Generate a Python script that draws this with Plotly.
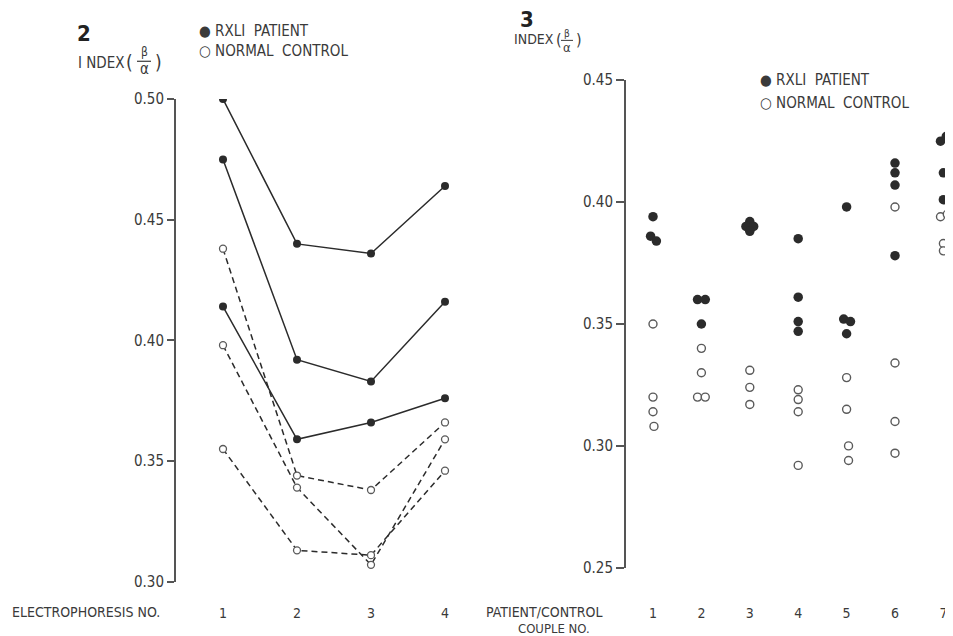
import plotly.graph_objects as go

W, H = 953, 636

# ---------------- Data ----------------
# Figure 2: index (beta/alpha) per electrophoresis run
electrophoresis_no = [1, 2, 3, 4]
patient_runs = [
    [0.500, 0.440, 0.436, 0.464],
    [0.475, 0.392, 0.383, 0.416],
    [0.414, 0.359, 0.366, 0.376],
]
control_runs = [
    [0.438, 0.344, 0.338, 0.366],
    [0.398, 0.339, 0.307, 0.359],
    [0.355, 0.313, 0.311, 0.346],
]
left_yticks = [0.30, 0.35, 0.40, 0.45, 0.50]

# Figure 3: index per patient/control couple
couple_no = [1, 2, 3, 4, 5, 6, 7]
patient_couple = [1, 1, 1, 2, 2, 2, 3, 3, 3, 3, 4, 4, 4, 4, 5, 5, 5, 5, 6, 6, 6, 6, 7, 7, 7, 7]
patient_index = [0.394, 0.386, 0.384,
                 0.360, 0.360, 0.350,
                 0.392, 0.390, 0.390, 0.388,
                 0.385, 0.361, 0.351, 0.347,
                 0.398, 0.352, 0.351, 0.346,
                 0.416, 0.412, 0.407, 0.378,
                 0.425, 0.427, 0.412, 0.401]
patient_offset = [0, -0.05, 0.07,
                  -0.08, 0.08, 0,
                  0, -0.08, 0.08, 0,
                  0, 0, 0, 0,
                  0, -0.06, 0.08, 0,
                  0, 0, 0, 0,
                  -0.06, 0.06, 0, 0]
control_couple = [1, 1, 1, 1, 2, 2, 2, 2, 3, 3, 3, 4, 4, 4, 4, 5, 5, 5, 5, 6, 6, 6, 6, 7, 7, 7, 7]
control_index = [0.350, 0.320, 0.314, 0.308,
                 0.340, 0.330, 0.320, 0.320,
                 0.331, 0.324, 0.317,
                 0.323, 0.319, 0.314, 0.292,
                 0.328, 0.315, 0.300, 0.294,
                 0.398, 0.334, 0.310, 0.297,
                 0.394, 0.395, 0.383, 0.380]
control_offset = [0, 0, 0, 0.02,
                  0, 0, -0.08, 0.08,
                  0, 0, 0,
                  0, 0, 0, 0,
                  0, 0, 0.04, 0.04,
                  0, 0, 0, 0,
                  -0.06, 0.08, 0, 0]
right_yticks = [0.25, 0.30, 0.35, 0.40, 0.45]

# ---------------- Styling ----------------
FONT = "DejaVu Sans Condensed, Liberation Sans Narrow, sans-serif"
TXT = "#3a3a3a"
DARK = "#2b2b2b"
OPEN = "#5a5a5a"
AXIS = "#555555"
SP = "\u00a0"

# observed page placement of the paper area (screen = offset + scale * layout px)
X_OFF, Y_OFF, Y_SCALE = 7.0, 14.5, 0.9765


def px(x):
    return (x - X_OFF) / W


def py(y):
    return 1 - ((y - Y_OFF) / Y_SCALE) / H


fig = go.Figure()

for vals in patient_runs:
    fig.add_trace(go.Scatter(
        x=electrophoresis_no, y=vals, mode="lines+markers", xaxis="x", yaxis="y",
        line=dict(color=DARK, width=1.5),
        marker=dict(color=DARK, size=8, symbol="circle"), showlegend=False))
for vals in control_runs:
    fig.add_trace(go.Scatter(
        x=electrophoresis_no, y=vals, mode="lines+markers", xaxis="x", yaxis="y",
        line=dict(color=DARK, width=1.5, dash="6px,4px"),
        marker=dict(color="white", size=7, symbol="circle",
                    line=dict(color=OPEN, width=1.3)), showlegend=False))

fig.add_trace(go.Scatter(
    x=[c + o for c, o in zip(control_couple, control_offset)], y=control_index,
    mode="markers", xaxis="x2", yaxis="y2", cliponaxis=False,
    marker=dict(color="white", size=8, symbol="circle", line=dict(color=OPEN, width=1.4)),
    showlegend=False))
fig.add_trace(go.Scatter(
    x=[c + o for c, o in zip(patient_couple, patient_offset)], y=patient_index,
    mode="markers", xaxis="x2", yaxis="y2", cliponaxis=False,
    marker=dict(color=DARK, size=9.5, symbol="circle"), showlegend=False))

# axes geometry (target pixels)
L_AX, L_TOP, L_BOT, L_RIGHT = 175, 97, 582, 475
R_AX, R_TOP, R_BOT, R_RIGHT = 625, 78, 568, 952
lx1, lpx = 222, 74.0
rx1, rpx = 652, 48.4

fig.update_layout(
    width=W, height=H, margin=dict(l=0, r=0, t=0, b=0),
    paper_bgcolor="white", plot_bgcolor="white",
    font=dict(family=FONT, color=TXT, size=14),
    xaxis=dict(domain=[px(L_AX), px(L_RIGHT)],
               range=[1 + (L_AX - lx1) / lpx, 1 + (L_RIGHT - lx1) / lpx],
               tickvals=electrophoresis_no, ticktext=[str(v) for v in electrophoresis_no],
               showgrid=False, zeroline=False, showline=False, ticks="",
               ticklabelstandoff=21, tickfont=dict(size=14, color=TXT), anchor="y"),
    yaxis=dict(domain=[py(L_BOT), py(L_TOP)], range=[0.30, 0.50],
               tickvals=left_yticks, tickformat=".2f", showgrid=False, zeroline=False,
               showline=True, linecolor=AXIS, linewidth=2, ticks="outside",
               ticklen=7, tickwidth=1.5, tickcolor=AXIS,
               tickfont=dict(size=15, color=TXT), anchor="x"),
    xaxis2=dict(domain=[px(R_AX), px(R_RIGHT)],
                range=[1 + (R_AX - rx1) / rpx, 1 + (R_RIGHT - rx1) / rpx],
                tickvals=couple_no, ticktext=[str(v) for v in couple_no],
                showgrid=False, zeroline=False, showline=False, ticks="",
                ticklabelstandoff=35, tickfont=dict(size=14, color=TXT), anchor="y2"),
    yaxis2=dict(domain=[py(R_BOT), py(R_TOP)], range=[0.25, 0.45],
                tickvals=right_yticks, tickformat=".2f", showgrid=False, zeroline=False,
                showline=True, linecolor=AXIS, linewidth=2, ticks="outside",
                ticklen=8, tickwidth=1.5, tickcolor=AXIS,
                tickfont=dict(size=15, color=TXT), anchor="x2"),
)


def ann(text, x, y, size=14, xanchor="left", bold=False, color=TXT):
    fig.add_annotation(text=f"<b>{text}</b>" if bold else text,
                       x=px(x), y=py(y), xref="paper", yref="paper",
                       xanchor=xanchor, yanchor="middle", showarrow=False,
                       font=dict(size=size, family=FONT, color=color))


# Panel numbers
ann("2", 74, 31, size=22, bold=True, color="#222")
ann("3", 517, 17, size=22, bold=True, color="#222")

# Y titles INDEX (beta/alpha)
ann("I" + SP + "NDEX", 75, 61, size=15)
ann("(", 123, 60, size=19)
ann("β", 143, 50, size=12, xanchor="center")
ann("α", 143, 67, size=15, xanchor="center")
ann(")", 152, 60, size=19)
fig.add_shape(type="line", xref="paper", yref="paper",
              x0=px(136), x1=px(150), y0=py(59), y1=py(59), line=dict(color=TXT, width=1.2))

ann("INDEX", 511, 37, size=14)
ann("(", 553, 37, size=16)
ann("β", 566, 31, size=10, xanchor="center")
ann("α", 566, 45, size=13, xanchor="center")
ann(")", 573, 37, size=16)
fig.add_shape(type="line", xref="paper", yref="paper",
              x0=px(560), x1=px(572), y0=py(38), y1=py(38), line=dict(color=TXT, width=1))

# Legends
ann("●" + SP + "RXLI" + SP * 2 + "PATIENT", 196, 29, size=15)
ann("○" + SP + "NORMAL" + SP * 2 + "CONTROL", 196, 49, size=15)
ann("●" + SP + "RXLI" + SP * 2 + "PATIENT", 757, 78, size=15)
ann("○" + SP + "NORMAL" + SP * 2 + "CONTROL", 757, 101, size=15)

# X titles
ann("ELECTROPHORESIS" + SP + "NO.", 9, 612, size=14)
ann("PATIENT/CONTROL", 483, 612, size=14)
ann("COUPLE" + SP + "NO.", 553, 629, size=13, xanchor="center")

fig.write_html("out.html")
